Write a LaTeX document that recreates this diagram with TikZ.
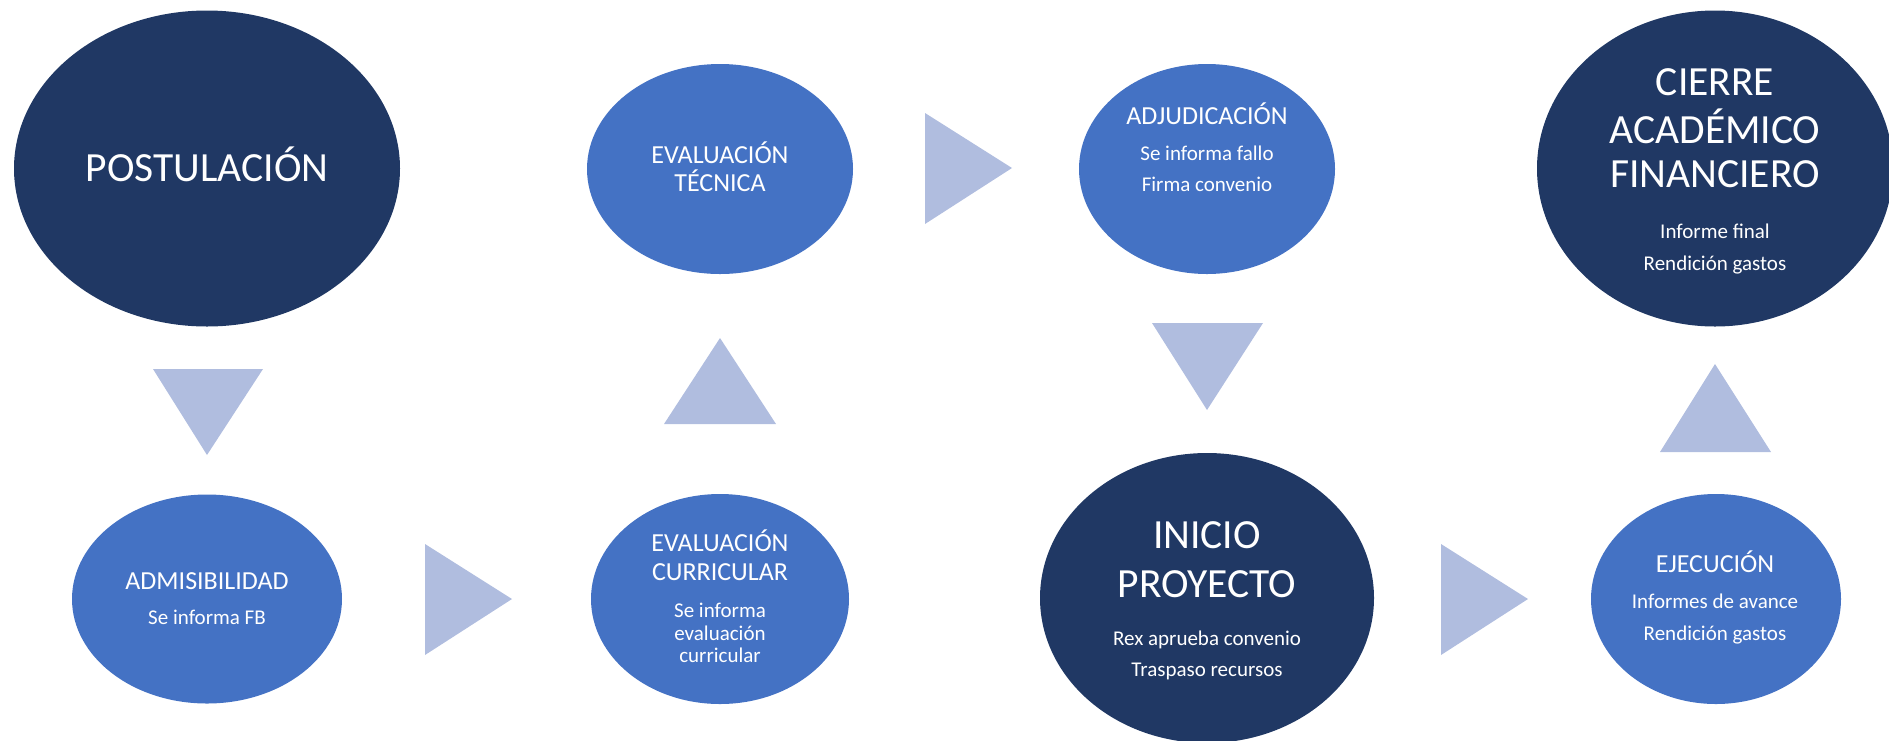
\documentclass[tikz,border=0pt]{standalone}
\usepackage{fontspec}
\setmainfont{Carlito}
\usetikzlibrary{shapes.geometric}
\definecolor{navy}{HTML}{203864}
\definecolor{mblue}{HTML}{4472C4}
\definecolor{trifill}{HTML}{B0BDDF}
\begin{document}
\begin{tikzpicture}[x=1pt,y=-1pt,
  ell/.style={ellipse, draw=none, inner sep=0pt},
  dk/.style={ell, fill=navy},
  md/.style={ell, fill=mblue},
  arr/.style={fill=trifill},
  lbl/.style={text=white, inner sep=0pt, anchor=base},
  big/.style={lbl, font=\fontsize{41.5}{46}\selectfont},
  mid/.style={lbl, font=\fontsize{26}{30}\selectfont},
  sml/.style={lbl, font=\fontsize{21}{25}\selectfont}]
\useasboundingbox (0,0) rectangle (1889,740);

% ellipses
\node[dk, minimum width=386pt, minimum height=316pt] (post) at (207,168.5) {};
\node[md, minimum width=270pt, minimum height=209pt] (adm) at (207,599) {};
\node[md, minimum width=258pt, minimum height=210pt] (evc) at (720,599) {};
\node[md, minimum width=266pt, minimum height=210pt] (evt) at (720,169) {};
\node[md, minimum width=256pt, minimum height=210pt] (adj) at (1207,169) {};
\node[dk, minimum width=334pt, minimum height=290pt] (ini) at (1207,598) {};
\node[md, minimum width=250pt, minimum height=210pt] (eje) at (1716,599) {};
\node[dk, minimum width=356pt, minimum height=316pt] (cie) at (1715,168.5) {};

% triangles
\fill[arr] (153,369) -- (263,369) -- (207,455) -- cycle;
\fill[arr] (425,544) -- (512,599) -- (425,655) -- cycle;
\fill[arr] (664,424) -- (720,338) -- (776,424) -- cycle;
\fill[arr] (925,113) -- (1012,168) -- (925,224) -- cycle;
\fill[arr] (1152,323) -- (1263,323) -- (1207,410) -- cycle;
\fill[arr] (1441,544) -- (1528,599) -- (1441,655) -- cycle;
\fill[arr] (1660,452) -- (1715,364) -- (1771,452) -- cycle;

% texts
\node[big] (postA) at (207,181) {POSTULACIÓN};

\node[mid] (admA) at (207,589) {ADMISIBILIDAD};
\node[sml] (admB) at (207,624) {Se informa FB};

\node[mid] (evcA) at (720,551) {EVALUACIÓN};
\node[mid] (evcB) at (720,580) {CURRICULAR};
\node[sml] (evcC) at (720,617) {Se informa};
\node[sml] (evcD) at (720,640) {evaluación};
\node[sml] (evcE) at (720,662) {curricular};

\node[mid] (evtA) at (720,163) {EVALUACIÓN};
\node[mid] (evtB) at (720,191) {TÉCNICA};

\node[mid] (adjA) at (1207,124) {ADJUDICACIÓN};
\node[sml] (adjB) at (1207,160) {Se informa fallo};
\node[sml] (adjC) at (1207,191) {Firma convenio};

\node[big] (iniA) at (1207,548) {INICIO};
\node[big] (iniB) at (1207,597) {PROYECTO};
\node[sml] (iniC) at (1207,645) {Rex aprueba convenio};
\node[sml] (iniD) at (1207,676) {Traspaso recursos};

\node[mid] (ejeA) at (1715,572) {EJECUCIÓN};
\node[sml] (ejeB) at (1715,608) {Informes de avance};
\node[sml] (ejeC) at (1715,640) {Rendición gastos};

\node[big] (cieA) at (1715,95) {CIERRE};
\node[big] (cieB) at (1715,143) {ACADÉMICO};
\node[big] (cieC) at (1715,187) {FINANCIERO};
\node[sml] (cieD) at (1715,238) {Informe final};
\node[sml] (cieE) at (1715,270) {Rendición gastos};
\end{tikzpicture}
\end{document}
